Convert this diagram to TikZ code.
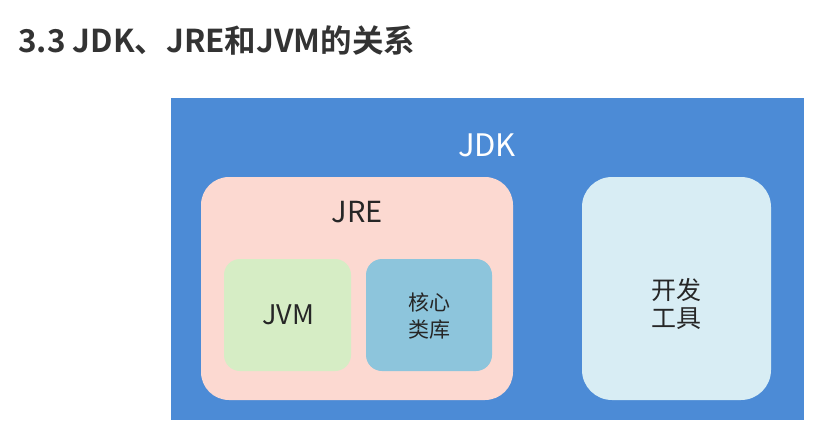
\documentclass[tikz,border=0pt]{standalone}
\usepackage{fontspec}
\setmainfont{Noto Sans CJK SC}
\newfontfamily\cjkbold{Noto Sans CJK SC Bold}
\definecolor{jdkblue}{HTML}{4C8BD6}
\definecolor{jrepeach}{HTML}{FCD9D1}
\definecolor{jvmgreen}{HTML}{D6EDC5}
\definecolor{libblue}{HTML}{8DC5DC}
\definecolor{toolblue}{HTML}{D8EDF4}
\definecolor{txt}{HTML}{262626}
\definecolor{titlec}{HTML}{333333}
\begin{document}
\begin{tikzpicture}[x=1pt,y=-1pt,
  boxstyle/.style={draw=none,inner sep=0pt},
  lbl/.style={text=txt,align=center,inner sep=0pt}]
\useasboundingbox[fill=white] (0,0) rectangle (831,434);
\node[anchor=west,text=titlec,inner sep=0pt,font=\cjkbold\fontsize{31.5}{36}\selectfont] (title) at (18,40) {3.3 JDK、JRE和JVM的关系};
\fill[jdkblue] (171,98) rectangle (804,420);
\coordinate (jdk) at (171,98);
\node[text=white,inner sep=0pt,font=\fontsize{31}{36}\selectfont] (jdklbl) at (487,145) {JDK};
\fill[jrepeach,rounded corners=28pt] (201,177) rectangle (513,400);
\node[lbl,font=\fontsize{29}{34}\selectfont] (jrelbl) at (357,212) {JRE};
\fill[jvmgreen,rounded corners=16pt] (224,259) rectangle (351,371);
\node[lbl,font=\fontsize{27}{30}\selectfont] (jvmlbl) at (288,315) {JVM};
\fill[libblue,rounded corners=16pt] (366,259) rectangle (492,371);
\node[lbl,font=\fontsize{21}{27}\selectfont] (liblbl) at (429,316) {核心\\类库};
\fill[toolblue,rounded corners=30pt] (582,177) rectangle (771,400);
\node[lbl,font=\fontsize{25}{28}\selectfont] (toollbl) at (676,304) {开发\\工具};
\end{tikzpicture}
\end{document}
